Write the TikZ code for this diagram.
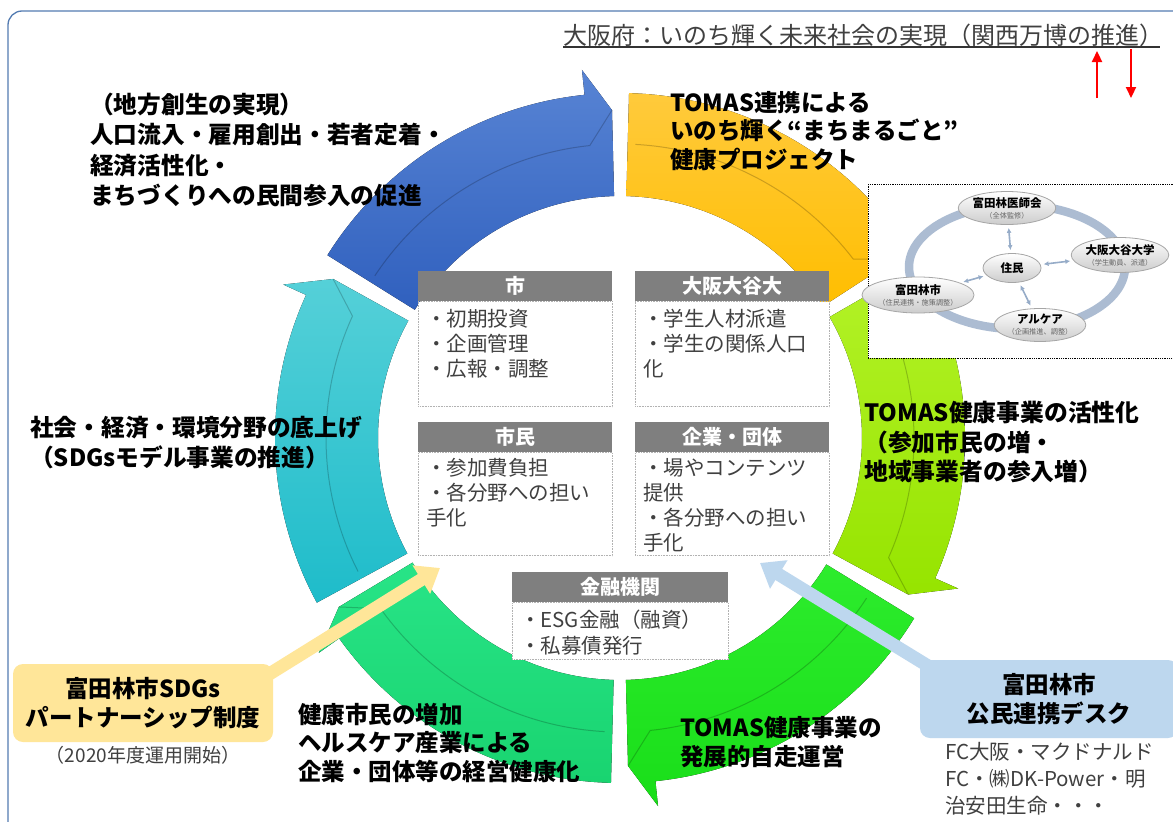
\documentclass[tikz,border=0pt]{standalone}
\usepackage{fontspec}
\setmainfont{Noto Sans CJK JP}
\usetikzlibrary{arrows.meta,shapes.geometric}
\definecolor{frameC}{RGB}{84,124,178}
\definecolor{hdrC}{RGB}{127,127,127}
\definecolor{txtC}{RGB}{64,64,64}
\definecolor{callY}{RGB}{255,230,153}
\definecolor{callB}{RGB}{189,215,238}
\definecolor{ringC}{RGB}{172,188,210}
\definecolor{dblC}{RGB}{150,172,200}

\newcommand{\ringarrow}[3]{%
  \pgfmathsetmacro\rgBase{#3-4.5}%
  \pgfmathsetmacro\rgCr{#2+1.5}%
  \fill[#1]
    plot[domain=#2:\rgBase,samples=60] ({620+345*cos(\x)},{438+345*sin(\x)})
    -- ({620+370*cos(\rgBase)},{438+370*sin(\rgBase)})
    -- ({620+328*cos(#3)},{438+328*sin(#3)})
    -- ({620+242*cos(#3)},{438+242*sin(#3)})
    -- plot[domain=#3:#2,samples=60] ({620+242*cos(\x)},{438+242*sin(\x)})
    -- cycle;
  \draw[crease]
    plot[domain=\rgCr:\rgBase,samples=50] ({620+294*cos(\x)},{438+294*sin(\x)})
    -- ({620+328*cos(#3)},{438+328*sin(#3)});
}

\begin{document}
\begin{tikzpicture}[x=1pt,y=-1pt,
  crease/.style={draw=black,draw opacity=0.2,line width=1pt},
  hdr/.style={fill=hdrC,text=white,font=\bfseries\fontsize{20}{24}\selectfont,minimum height=30pt,inner sep=0,anchor=north west},
  bodyb/.style={draw=black!30,densely dotted,line width=0.6pt,fill=white,inner sep=0,anchor=north west},
  items/.style={text=txtC,font=\fontsize{20.5}{25}\selectfont,align=left,anchor=north west,inner sep=0},
  big/.style={font=\bfseries\fontsize{23.5}{30}\selectfont,align=left,anchor=north west,inner sep=0,text=black},
  ell/.style={ellipse,draw=black!35,line width=0.8pt,top color=white,bottom color=black!20,inner sep=0,align=center},
  dbl/.style={{Latex[length=5pt,width=5pt]}-{Latex[length=5pt,width=5pt]},draw=dblC,line width=1.6pt,shorten <=3pt,shorten >=3pt},
  redarr/.style={draw=red,line width=2.2pt,-{Triangle[length=11pt,width=10pt]}},
  callout/.style={rounded corners=10pt,inner sep=0,align=center,font=\bfseries\fontsize{23.5}{29}\selectfont},
]
\useasboundingbox (0,0) rectangle (1173,822);
\clip (0,0) rectangle (1173,822);
\fill[white] (0,0) rectangle (1173,822);
\draw[frameC,line width=1.3pt,rounded corners=14pt] (8,11) rectangle (1195,840);

% ---- ring of arrows ----
\ringarrow{top color={rgb,255:red,40;green,228;blue,135},bottom color={rgb,255:red,25;green,212;blue,112}}{91.5}{149}
\ringarrow{top color={rgb,255:red,45;green,236;blue,45},bottom color={rgb,255:red,25;green,222;blue,25}}{31.5}{88.6}
\ringarrow{top color={rgb,255:red,180;green,242;blue,40},bottom color={rgb,255:red,150;green,228;blue,0}}{330}{388.5}
\ringarrow{top color={rgb,255:red,255;green,202;blue,60},bottom color={rgb,255:red,255;green,190;blue,0}}{271.5}{327}
\ringarrow{top color={rgb,255:red,85;green,208;blue,216},bottom color={rgb,255:red,30;green,188;blue,202}}{151.5}{209}
\ringarrow{top color={rgb,255:red,88;green,132;blue,212},bottom color={rgb,255:red,48;green,96;blue,190}}{212}{268.6}

% ---- centre boxes ----
\node[hdr,minimum width=194pt] (shiH) at (418,271) {市};
\node[bodyb,minimum width=194pt,minimum height=105pt] (shiB) at (shiH.south west) {};
\node[items] (shiT) at ([shift={(8pt,-8pt)}]shiB.north west) {・初期投資\\・企画管理\\・広報・調整};

\node[hdr,minimum width=194pt] (otaniH) at (635,271) {大阪大谷大};
\node[bodyb,minimum width=194pt,minimum height=105pt] (otaniB) at (otaniH.south west) {};
\node[items] (otaniT) at ([shift={(8pt,-8pt)}]otaniB.north west) {・学生人材派遣\\・学生の関係人口\\化};

\node[hdr,minimum width=194pt] (shiminH) at (418,422) {市民};
\node[bodyb,minimum width=194pt,minimum height=103pt] (shiminB) at (shiminH.south west) {};
\node[items] (shiminT) at ([shift={(8pt,-6pt)}]shiminB.north west) {・参加費負担\\・各分野への担い\\手化};

\node[hdr,minimum width=194pt] (kigyoH) at (635,422) {企業・団体};
\node[bodyb,minimum width=194pt,minimum height=103pt] (kigyoB) at (kigyoH.south west) {};
\node[items] (kigyoT) at ([shift={(8pt,-6pt)}]kigyoB.north west) {・場やコンテンツ\\提供\\・各分野への担い\\手化};

\node[hdr,minimum width=216pt] (kinyuH) at (512,572) {金融機関};
\node[bodyb,minimum width=216pt,minimum height=57pt] (kinyuB) at (kinyuH.south west) {};
\node[items,font=\fontsize{20.5}{26}\selectfont] (kinyuT) at ([shift={(8pt,-7pt)}]kinyuB.north west) {・ESG金融（融資）\\・私募債発行};

% ---- big labels ----
\node[big,font=\bfseries\fontsize{23.7}{30.3}\selectfont] (lblA) at (90,93) {（地方創生の実現）\\人口流入・雇用創出・若者定着・\\経済活性化・\\まちづくりへの民間参入の促進};
\node[big,font=\bfseries\fontsize{23.5}{28.5}\selectfont] (lblB) at (670,91) {TOMAS連携による\\いのち輝く“まちまるごと”\\健康プロジェクト};
\node[big,font=\bfseries\fontsize{23.8}{29.5}\selectfont] (lblC) at (864,401) {TOMAS健康事業の活性化\\（参加市民の増・\\地域事業者の参入増）};
\node[big,font=\bfseries\fontsize{23.7}{30}\selectfont] (lblD) at (30,416) {社会・経済・環境分野の底上げ\\（SDGsモデル事業の推進）};
\node[big,font=\bfseries\fontsize{23.5}{28.5}\selectfont] (lblE) at (298,703) {健康市民の増加\\ヘルスケア産業による\\企業・団体等の経営健康化};
\node[big,font=\bfseries\fontsize{23.5}{29}\selectfont] (lblF) at (680,716) {TOMAS健康事業の\\発展的自走運営};

% ---- inset diagram ----
\node[draw,densely dotted,line width=0.8pt,fill=white,minimum width=330pt,minimum height=174pt,anchor=north west,inner sep=0] (inset) at (868,184) {};
\draw[ringC,line width=8.5pt] (1017,267) ellipse [x radius=108pt,y radius=62pt];
\node[ell,minimum width=96pt,minimum height=33pt] (isikai) at (1007,208) {{\bfseries\fontsize{11.5}{12}\selectfont 富田林医師会}\\[-1pt]{\fontsize{7.2}{8}\selectfont\color{black!60}（全体監修）}};
\node[ell,minimum width=93pt,minimum height=35pt] (otaniE) at (1120,255) {{\bfseries\fontsize{11.5}{12}\selectfont 大阪大谷大学}\\[-1pt]{\fontsize{7.2}{8}\selectfont\color{black!60}（学生動員、派遣）}};
\node[ell,minimum width=58pt,minimum height=29pt] (jumin) at (1012,268) {{\bfseries\fontsize{11.5}{12}\selectfont 住民}};
\node[ell,minimum width=96pt,minimum height=36pt] (cityE) at (918,295) {{\bfseries\fontsize{11.5}{12}\selectfont 富田林市}\\[-1pt]{\fontsize{7.2}{8}\selectfont\color{black!60}（住民連携・施策調整）}};
\node[ell,minimum width=91pt,minimum height=33pt] (alcare) at (1040,325) {{\bfseries\fontsize{11.5}{12}\selectfont アルケア}\\[-1pt]{\fontsize{7.2}{8}\selectfont\color{black!60}（企画推進、調整）}};
\draw[dbl] (jumin) -- (isikai);
\draw[dbl] (jumin) -- (otaniE);
\draw[dbl] (jumin) -- (cityE);
\draw[dbl] (jumin) -- (alcare);

% ---- callouts and connectors ----
\node[callout,fill=callY,minimum width=260pt,minimum height=78pt] (sdgs) at (143,703) {富田林市SDGs\\パートナーシップ制度};
\coordinate (yTip) at (440,568);
\draw[line width=13pt,callY,-{Triangle[length=22pt,width=32pt]}] ([shift={(-10pt,-14pt)}]sdgs.north east) -- (yTip);
\node[anchor=north,text=txtC,font=\fontsize{19}{23}\selectfont,inner sep=0] (sdgsNote) at (143,746) {（2020年度運用開始）};

\node[callout,fill=callB,minimum width=258pt,minimum height=78pt] (desk) at (1049,699) {富田林市\\公民連携デスク};
\coordinate (bTip) at (760,563);
\draw[line width=13pt,callB,-{Triangle[length=22pt,width=32pt]}] ([shift={(8pt,-6pt)}]desk.north west) -- (bTip);
\node[anchor=north west,text=txtC,font=\fontsize{20.5}{27}\selectfont,align=left,inner sep=0] (deskNote) at (945,742) {FC大阪・マクドナルド\\FC・㈱DK-Power・明\\治安田生命・・・};

% ---- title ----
\node[anchor=west,inner sep=0,text=txtC,font=\fontsize{24}{28}\selectfont] (title) at (563,35) {大阪府：いのち輝く未来社会の実現（関西万博の推進）};
\coordinate (ulA) at (563,47);
\coordinate (ulB) at (1160,47);
\draw[black!80,line width=1.3pt] (ulA) -- (ulB);
\coordinate (upA) at (1097,98);
\coordinate (upB) at (1097,51);
\coordinate (dnA) at (1131,49);
\coordinate (dnB) at (1131,98);
\draw[redarr] (upA) -- (upB);
\draw[redarr] (dnA) -- (dnB);
\end{tikzpicture}
\end{document}
